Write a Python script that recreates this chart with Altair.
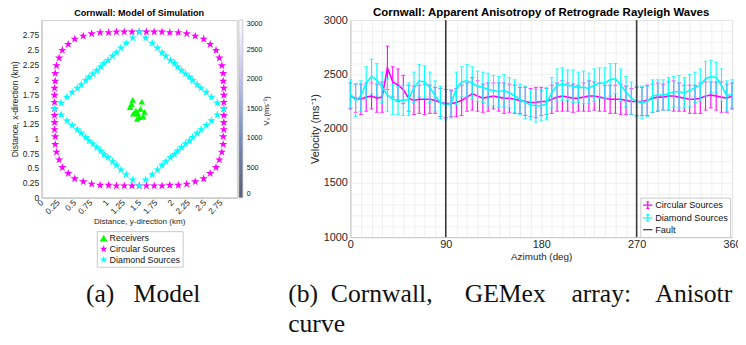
import altair as alt
import pandas as pd

# ---------------- data: model panel ----------------
circ_x = [2.80, 2.80, 2.80, 2.80, 2.79, 2.79, 2.77, 2.73, 2.68, 2.59, 2.49, 2.36, 2.23, 2.10, 1.97, 1.85, 1.73, 1.61,
          1.50, 1.39, 1.27, 1.15, 1.03, 0.90, 0.77, 0.64, 0.51, 0.41, 0.32, 0.27, 0.23, 0.21, 0.21, 0.20, 0.20, 0.20,
          0.20, 0.20, 0.20, 0.20, 0.21, 0.21, 0.23, 0.27, 0.32, 0.41, 0.51, 0.64, 0.77, 0.90, 1.03, 1.15, 1.27, 1.39,
          1.50, 1.61, 1.73, 1.85, 1.97, 2.10, 2.23, 2.36, 2.49, 2.59, 2.68, 2.73, 2.77, 2.79, 2.79, 2.80, 2.80, 2.80]
circ_y = [1.50, 1.61, 1.73, 1.85, 1.97, 2.10, 2.23, 2.36, 2.49, 2.59, 2.68, 2.73, 2.77, 2.79, 2.79, 2.80, 2.80, 2.80,
          2.80, 2.80, 2.80, 2.80, 2.79, 2.79, 2.77, 2.73, 2.68, 2.59, 2.49, 2.36, 2.23, 2.10, 1.97, 1.85, 1.73, 1.61,
          1.50, 1.39, 1.27, 1.15, 1.03, 0.90, 0.77, 0.64, 0.51, 0.41, 0.32, 0.27, 0.23, 0.21, 0.21, 0.20, 0.20, 0.20,
          0.20, 0.20, 0.20, 0.20, 0.21, 0.21, 0.23, 0.27, 0.32, 0.41, 0.51, 0.64, 0.77, 0.90, 1.03, 1.15, 1.27, 1.39]
diam_x = [2.80, 2.70, 2.61, 2.53, 2.45, 2.39, 2.32, 2.27, 2.21, 2.15, 2.09, 2.04, 1.98, 1.91, 1.85, 1.78, 1.70, 1.60,
          1.50, 1.40, 1.30, 1.22, 1.15, 1.09, 1.02, 0.96, 0.91, 0.85, 0.79, 0.73, 0.68, 0.61, 0.55, 0.47, 0.39, 0.30,
          0.20, 0.30, 0.39, 0.47, 0.55, 0.61, 0.68, 0.73, 0.79, 0.85, 0.91, 0.96, 1.02, 1.09, 1.15, 1.22, 1.30, 1.40,
          1.50, 1.60, 1.70, 1.78, 1.85, 1.91, 1.98, 2.04, 2.09, 2.15, 2.21, 2.27, 2.32, 2.39, 2.45, 2.53, 2.61, 2.70]
diam_y = [1.50, 1.60, 1.70, 1.78, 1.85, 1.91, 1.98, 2.04, 2.09, 2.15, 2.21, 2.27, 2.32, 2.39, 2.45, 2.53, 2.61, 2.70,
          2.80, 2.70, 2.61, 2.53, 2.45, 2.39, 2.32, 2.27, 2.21, 2.15, 2.09, 2.04, 1.98, 1.91, 1.85, 1.78, 1.70, 1.60,
          1.50, 1.40, 1.30, 1.22, 1.15, 1.09, 1.02, 0.96, 0.91, 0.85, 0.79, 0.73, 0.68, 0.61, 0.55, 0.47, 0.39, 0.30,
          0.20, 0.30, 0.39, 0.47, 0.55, 0.61, 0.68, 0.73, 0.79, 0.85, 0.91, 0.96, 1.02, 1.09, 1.15, 1.22, 1.30, 1.40]
rec_x = [1.40, 1.54, 1.36, 1.52, 1.41, 1.48, 1.56, 1.47, 1.38, 1.58, 1.45, 1.50]
rec_y = [1.65, 1.62, 1.53, 1.50, 1.42, 1.42, 1.37, 1.33, 1.58, 1.45, 1.47, 1.36]
model_kinds = ["Receivers", "Circular Sources", "Diamond Sources"]
km_ticks = [0, 0.25, 0.5, 0.75, 1, 1.25, 1.5, 1.75, 2, 2.25, 2.5, 2.75]
vs_stops = [0, 500, 1000, 1500, 2000, 2500, 3000]
vs_colors = ["#1d1a3c", "#2a3c70", "#3f5f9e", "#6d86c6", "#a4a5e0", "#d6d1f3", "#ffffff"]

# ---------------- data: anisotropy panel ----------------
azimuth = list(range(0, 361, 5))
circ_mean = [2300, 2280, 2270, 2290, 2300, 2280, 2290, 2560, 2430, 2400, 2360, 2280, 2260, 2270, 2270, 2270, 2260, 2240,
             2230, 2230, 2240, 2260, 2290, 2320, 2300, 2280, 2290, 2300, 2290, 2280, 2280, 2270, 2260, 2250, 2240, 2240,
             2250, 2250, 2270, 2290, 2300, 2290, 2280, 2280, 2290, 2300, 2300, 2290, 2280, 2270, 2270, 2270, 2260, 2250,
             2250, 2250, 2260, 2280, 2290, 2290, 2300, 2300, 2290, 2280, 2270, 2270, 2280, 2300, 2310, 2300, 2290, 2280,
             2300]
circ_err = [120, 130, 140, 130, 120, 130, 140, 200, 140, 150, 130, 120, 130, 130, 140, 130, 120, 130, 130, 120,
            130, 140, 130, 150, 140, 130, 130, 120, 130, 140, 130, 130, 120, 130, 130, 140, 130, 120, 130, 130,
            140, 130, 130, 120, 130, 140, 130, 130, 120, 130, 130, 140, 130, 120, 130, 130, 140, 130, 130, 120,
            130, 140, 130, 120, 130, 130, 140, 130, 120, 130, 140, 130, 120]
diam_mean = [2320, 2260, 2300, 2420, 2480, 2450, 2380, 2310, 2270, 2260, 2260, 2270, 2380, 2440, 2430, 2380, 2300, 2240,
             2220, 2230, 2370, 2430, 2440, 2420, 2390, 2380, 2360, 2350, 2340, 2350, 2330, 2300, 2270, 2240, 2220, 2210,
             2210, 2230, 2330, 2400, 2410, 2400, 2390, 2380, 2380, 2370, 2400, 2420, 2420, 2450, 2460, 2400, 2340, 2280,
             2250, 2240, 2250, 2300, 2310, 2310, 2320, 2340, 2340, 2330, 2350, 2380, 2400, 2460, 2480, 2470, 2400, 2300,
             2320]
diam_err = [130, 150, 140, 150, 160, 150, 140, 150, 140, 130, 140, 150, 140, 150, 150, 140, 140, 150, 140, 130,
            150, 140, 150, 150, 140, 140, 150, 140, 140, 150, 140, 150, 140, 150, 140, 150, 140, 150, 140, 150,
            150, 140, 150, 140, 150, 140, 150, 140, 140, 150, 140, 150, 140, 150, 140, 150, 140, 150, 140, 140,
            150, 140, 150, 140, 150, 140, 150, 160, 150, 140, 150, 140, 130]
fault_az = [90, 270]
legend_items = ["Circular Sources", "Diamond Sources", "Fault"]

NB = "\u00a0"
caption_a = "(a)" + NB * 2 + " Model"
caption_b = ("(b)" + NB + " Cornwall," + NB * 4 + " GEMex" + NB * 3 + " array:" + NB * 3 + " Anisotropy")
caption_b2 = "curve"

# ---------------- style ----------------
FONT = "Liberation Sans"
SERIF = "Liberation Serif"
MAG, CYA, GRN, FAULT = "#ff00ff", "#00ffff", "#00ff00", "#3a3a3a"
STAR = ("M0,-1L0.2245,-0.309L0.951,-0.309L0.363,0.118L0.588,0.809L0,0.382"
        "L-0.588,0.809L-0.363,0.118L-0.951,-0.309L-0.2245,-0.309Z")
EBAR = "M-1,0L1,0M0,-0.7L0,0.7M-0.3,-0.7L0.3,-0.7M-0.3,0.7L0.3,0.7"
HLINE = "M-1,0L1,0"

# ---------------- left panel ----------------
model_df = pd.DataFrame({
    "ydir": circ_x + diam_x + rec_x,
    "xdir": circ_y + diam_y + rec_y,
    "kind": ["Circular Sources"] * len(circ_x) + ["Diamond Sources"] * len(diam_x) + ["Receivers"] * len(rec_x),
    "sz": [80] * (len(circ_x) + len(diam_x)) + [45] * len(rec_x),
})

kx = alt.X("ydir:Q", scale=alt.Scale(domain=[0, 3], nice=False, zero=False),
           axis=alt.Axis(values=km_ticks, labelExpr="'' + datum.value", labelAngle=-45, labelAlign="right",
                         labelBaseline="middle", labelFontSize=8.5, labelPadding=3, ticks=False, grid=False,
                         labelOverlap=False, labelFlush=False,
                         domainColor="#bdbdbd", title="Distance, y-direction (km)", titleFontSize=8.2,
                         titleFontWeight="normal", titlePadding=2))
ky = alt.Y("xdir:Q", scale=alt.Scale(domain=[0, 3], nice=False, zero=False),
           axis=alt.Axis(values=km_ticks, labelExpr="'' + datum.value", labelFontSize=8.5, labelPadding=3,
                         ticks=False, labelOverlap=False, labelFlush=False,
                         grid=False, domainColor="#bdbdbd", title="Distance, x-direction (km)",
                         titleFontSize=8.6, titleFontWeight="normal", titlePadding=3))

left_leg = alt.Legend(orient="none", legendX=56, legendY=214, title=None, direction="vertical",
                      labelFontSize=9, symbolSize=60, fillColor="white", strokeColor="#c8c8c8", padding=2,
                      rowPadding=1, labelOffset=1)
pts = alt.Chart(model_df).mark_point(filled=True, opacity=1, strokeWidth=0).encode(
    x=kx, y=ky,
    color=alt.Color("kind:N", scale=alt.Scale(domain=model_kinds, range=[GRN, MAG, CYA]), legend=left_leg),
    shape=alt.Shape("kind:N", scale=alt.Scale(domain=model_kinds, range=["triangle-up", STAR, STAR]),
                    legend=left_leg),
    size=alt.Size("sz:Q", scale=None, legend=None),
)

vs_df = pd.DataFrame({"vs": [vs_stops[0], vs_stops[-1]], "ydir": [1.5, 1.5], "xdir": [1.5, 1.5]})
cbar = alt.Chart(vs_df).mark_point(size=0, filled=True).encode(
    x=kx, y=ky,
    fill=alt.Fill("vs:Q", scale=alt.Scale(domain=vs_stops, range=vs_colors),
                  legend=alt.Legend(orient="none", legendX=200, legendY=0, direction="vertical",
                                    gradientLength=180, gradientThickness=4, values=vs_stops, format="d",
                                    labelFontSize=7.2, labelOffset=4, labelOverlap=False, title=None,
                                    gradientStrokeColor="#8a8a8a", gradientStrokeWidth=0.6, padding=0)),
)
cbar_title = alt.Chart(pd.DataFrame({"t": ["V\u209b (ms\u207b\u00b9)"]})).mark_text(
    angle=270, font=FONT, fontSize=7.5, color="#222").encode(
    text="t:N", x=alt.value(229), y=alt.value(92))
cap_a = alt.Chart(pd.DataFrame({"t": [caption_a]})).mark_text(
    font=SERIF, fontSize=26, align="left", baseline="alphabetic", color="#111").encode(
    text="t:N", x=alt.value(45), y=alt.value(286))

left = alt.layer(pts, cbar, cbar_title, cap_a).properties(
    width=198, height=180,
    title=alt.TitleParams("Cornwall: Model of Simulation", font=FONT, fontSize=9.2, fontWeight="bold",
                          anchor="middle", frame="group", offset=2),
).resolve_scale(fill="independent")

# ---------------- right panel ----------------
rows = []
for a, m, e in zip(azimuth, circ_mean, circ_err):
    rows.append({"az": a, "vel": m, "lo": m - e, "hi": m + e, "series": "Circular Sources"})
for a, m, e in zip(azimuth, diam_mean, diam_err):
    rows.append({"az": a, "vel": m, "lo": m - e, "hi": m + e, "series": "Diamond Sources"})
ani_df = pd.DataFrame(rows)

xaxis = alt.Axis(values=list(range(0, 361, 10)), labelExpr="datum.value % 90 == 0 ? datum.label : ''",
                 labelOverlap=False, labelFlush=False, grid=True, gridColor="#ececec", gridWidth=0.8,
                 ticks=False, domainColor="#c8c8c8", labelFontSize=11, labelPadding=2,
                 title="Azimuth (deg)", titleFontSize=10, titleFontWeight="normal", titlePadding=2)
yaxis = alt.Axis(values=list(range(1000, 3001, 100)), labelExpr="datum.value % 500 == 0 ? datum.label : ''",
                 labelOverlap=False, labelFlush=False, grid=True, gridColor="#ececec", gridWidth=0.8,
                 ticks=False, domainColor="#c8c8c8", labelFontSize=11, labelPadding=3, format="d",
                 title="Velocity (ms\u207b\u00b9)", titleFontSize=11, titleFontWeight="normal", titlePadding=3)
X = alt.X("az:Q", scale=alt.Scale(domain=[0, 360], nice=False, zero=False), axis=xaxis)
YS = alt.Scale(domain=[1000, 3000], nice=False, zero=False)


def series_layers(name, color):
    base = alt.Chart(ani_df).transform_filter(alt.datum.series == name)
    eb = base.mark_errorbar(ticks=True, size=4, thickness=1.1, color=color).encode(
        x=X, y=alt.Y("lo:Q", scale=YS, axis=yaxis), y2="hi:Q")
    ln = base.mark_line(color=color, strokeWidth=1.6).encode(
        x=X, y=alt.Y("vel:Q", scale=YS, axis=yaxis))
    return [eb, ln]


faults = alt.Chart(pd.DataFrame({"az": fault_az})).mark_rule(color=FAULT, strokeWidth=1.6).encode(x=X)

leg = alt.Legend(orient="none", legendX=294, legendY=180, title=None, labelFontSize=9.3, symbolSize=90,
                 symbolStrokeWidth=1.2, fillColor="white", strokeColor="#c8c8c8", padding=2,
                 rowPadding=0, labelOffset=2)
carrier = alt.Chart(pd.DataFrame({"az": [-100] * 3, "vel": [2000] * 3, "series": legend_items})).mark_point(
    filled=False, clip=True, strokeWidth=1.2, opacity=1).encode(
    x=X, y=alt.Y("vel:Q", scale=YS, axis=yaxis),
    color=alt.Color("series:N", scale=alt.Scale(domain=legend_items, range=[MAG, CYA, FAULT]), legend=leg),
    shape=alt.Shape("series:N", scale=alt.Scale(domain=legend_items, range=[EBAR, EBAR, HLINE]), legend=leg),
)

cap_b = alt.Chart(pd.DataFrame({"t": [caption_b]})).mark_text(
    font=SERIF, fontSize=26, align="left", baseline="alphabetic", color="#111",
    limit=456, ellipsis="\u200a").encode(
    text="t:N", x=alt.value(-63), y=alt.value(286))
cap_b2 = alt.Chart(pd.DataFrame({"t": [caption_b2]})).mark_text(
    font=SERIF, fontSize=26, align="left", baseline="alphabetic", color="#111").encode(
    text="t:N", x=alt.value(-63), y=alt.value(316))

right = alt.layer(*series_layers("Circular Sources", MAG), *series_layers("Diamond Sources", CYA),
                  faults, carrier, cap_b, cap_b2).properties(
    width=387, height=220,
    title=alt.TitleParams("Cornwall: Apparent Anisotropy of Retrograde Rayleigh Waves", font=FONT,
                          fontSize=11.6, fontWeight="bold", anchor="middle", frame="group", offset=-4),
)

chart = alt.hconcat(left, right, spacing=115, bounds="flush").resolve_scale(
    color="independent", shape="independent"
).properties(
    padding={"left": 1, "top": -5, "right": -4, "bottom": -6}
).configure(font=FONT).configure_view(stroke="#cfcfcf").configure_axis(
    labelFont=FONT, titleFont=FONT, labelColor="#262626", titleColor="#262626"
).configure_legend(labelFont=FONT, labelColor="#111")

chart.save("out.html", embed_options={"renderer": "svg", "actions": False})
